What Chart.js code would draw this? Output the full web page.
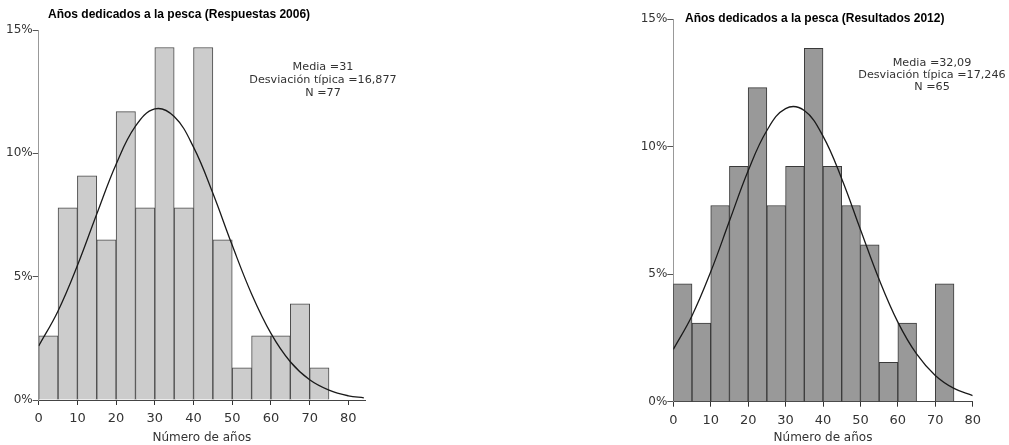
<!DOCTYPE html>
<html>
<head>
<meta charset="utf-8">
<script src="https://cdn.jsdelivr.net/npm/chart.js@4"></script>
<style>
  body { margin: 0; width: 1009px; height: 445px; background: #fff; position: relative; overflow: hidden; }
  .box { position: absolute; top: 0; height: 445px; }
  .txt { position: absolute; white-space: nowrap; color: #222; }
  .title { font-family: "Liberation Sans", Arial, sans-serif; font-weight: bold; color: #000; }
  .stats { font-family: "DejaVu Sans", sans-serif; font-size: 11.2px; line-height: 13px; text-align: center; color: #333; }
</style>
</head>
<body>
<div class="box" style="left:0;width:400px"><canvas id="chart2006"></canvas></div>
<div class="box" style="left:630px;width:379px"><canvas id="chart2012"></canvas></div>

<div class="txt title" style="left:48px;top:7px;font-size:12px">Años dedicados a la pesca (Respuestas 2006)</div>
<div class="txt title" style="left:685px;top:11px;font-size:12px">Años dedicados a la pesca (Resultados 2012)</div>

<div class="txt stats" style="left:238px;top:60px;width:170px">Media =31<br>Desviación típica =16,877<br>N =77</div>
<div class="txt stats" style="left:846px;top:57px;width:172px;line-height:12px">Media =32,09<br>Desviación típica =17,246<br>N =65</div>

<script>
// Centros de las clases (5 años de ancho)
const binCenters = [2.5, 7.5, 12.5, 17.5, 22.5, 27.5, 32.5, 37.5, 42.5, 47.5, 52.5, 57.5, 62.5, 67.5, 72.5];

// Porcentajes
const pct2006 = [2.60, 7.79, 9.09, 6.49, 11.69, 7.79, 14.29, 7.79, 14.29, 6.49, 1.30, 2.60, 2.60, 3.90, 1.30];
const pct2012 = [4.62, 3.08, 7.69, 9.23, 12.31, 7.69, 9.23, 13.85, 9.23, 7.69, 6.15, 1.54, 3.08, 0, 4.62];

// Curva normal, valores leídos
const curveX2006 = [0, 5, 10, 15, 20, 25, 30, 35, 40, 45, 50, 55, 60, 65, 70, 75, 80, 84];
const curveY2006 = [2.19, 3.61, 5.45, 7.54, 9.56, 11.10, 11.80, 11.49, 10.25, 8.38, 6.27, 4.30, 2.70, 1.55, 0.82, 0.40, 0.17, 0.09];
const curveX2012 = [0, 5, 10, 15, 20, 25, 30, 35, 40, 45, 50, 55, 60, 65, 70, 75, 80];
const curveY2012 = [2.05, 3.37, 5.09, 7.08, 9.05, 10.63, 11.49, 11.41, 10.41, 8.74, 6.75, 4.79, 3.12, 1.87, 1.03, 0.52, 0.24];

const yTicks = [0, 5, 10, 15];

function pairs(xs, ys) {
    return xs.map((x, i) => ({ x: x, y: ys[i] }));
}

function makeHistogram(id, cfg) {
    const ctx = document.getElementById(id);
    return new Chart(ctx, {
        data: {
            datasets: [
                {
                    type: 'line',
                    data: pairs(cfg.curveX, cfg.curveY),
                    borderColor: '#1a1a1a',
                    borderWidth: 1.3,
                    pointRadius: 0,
                    tension: 0.4,
                    fill: false,
                    order: 0
                },
                {
                    type: 'bar',
                    data: pairs(binCenters, cfg.values),
                    backgroundColor: cfg.fill,
                    borderColor: cfg.border,
                    borderWidth: 1,
                    barPercentage: 1,
                    categoryPercentage: 1,
                    order: 1
                }
            ]
        },
        options: {
            responsive: true,
            maintainAspectRatio: false,
            animation: false,
            layout: { padding: { left: 0, right: cfg.padRight, top: cfg.padTop, bottom: 0 } },
            plugins: { legend: { display: false }, tooltip: { enabled: false } },
            scales: {
                x: {
                    type: 'linear',
                    offset: false,
                    min: 0,
                    max: cfg.xMax,
                    afterFit: s => { s.height = cfg.xHeight; },
                    ticks: { stepSize: 10, includeBounds: false, color: '#333', font: { family: 'DejaVu Sans', size: 13 }, padding: 6, maxRotation: 0 },
                    grid: { offset: false, drawOnChartArea: false, drawTicks: true, tickLength: 5, color: '#333' },
                    border: { display: true, color: '#444', width: 1 },
                    title: { display: true, text: 'Número de años', color: '#333', font: { family: 'DejaVu Sans', size: 12 }, padding: { top: 2, bottom: 0 } }
                },
                y: {
                    min: 0,
                    max: 15,
                    afterFit: s => { s.width = cfg.yWidth; },
                    afterBuildTicks: s => { s.ticks = yTicks.map(v => ({ value: v })); },
                    ticks: { callback: v => v + '%', color: '#333', font: { family: 'DejaVu Sans', size: 12 }, padding: 0 },
                    grid: { drawOnChartArea: false, drawTicks: true, tickLength: 6, color: '#555' },
                    border: { display: true, color: '#999', width: 1 }
                }
            }
        }
    });
}

makeHistogram('chart2006', {
    values: pct2006, curveX: curveX2006, curveY: curveY2006,
    fill: '#cccccc', border: '#4a4a4a',
    xMax: 84.3, yWidth: 38.7, padRight: 35, padTop: 30, xHeight: 45
});

makeHistogram('chart2012', {
    values: pct2012, curveX: curveX2012, curveY: curveY2012,
    fill: '#999999', border: '#3a3a3a',
    xMax: 80, yWidth: 43.3, padRight: 36.3, padTop: 19, xHeight: 43.3
});
</script>
</body>
</html>
